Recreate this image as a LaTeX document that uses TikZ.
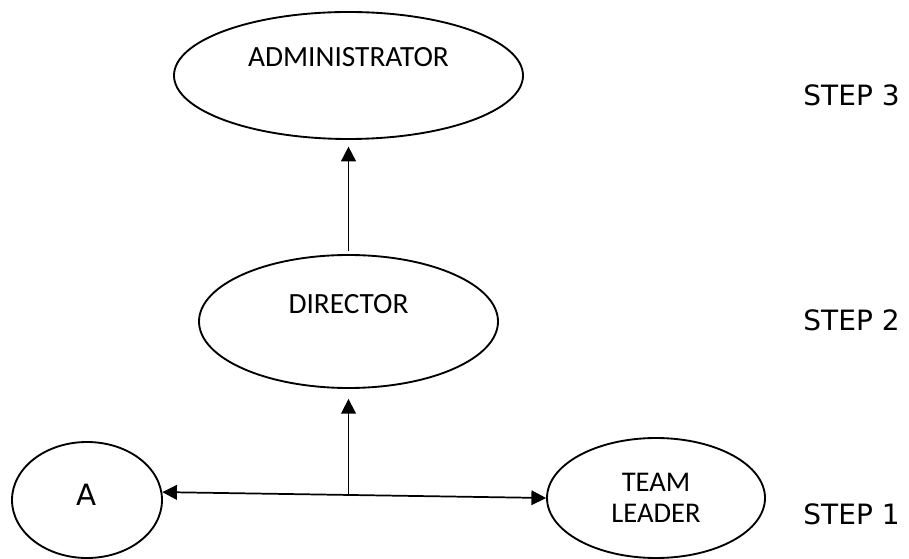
\documentclass[tikz,border=0pt]{standalone}
\usepackage{fontspec}
\setmainfont{Carlito}
\newfontfamily\stepfont{DejaVu Sans}
\usetikzlibrary{arrows.meta}
\usetikzlibrary{shapes}
\tikzset{
        rolenode/.style={align=center,inner sep=0pt},
        % Role ellipses
        node_role/.style={rolenode, ellipse, draw=black, line width=1.4pt, fill=white},
        % Role names (Calibri-like)
        node_name/.style={rolenode, black, font=\fontsize{22}{26}\selectfont},
        % Step labels on the right
        node_step/.style={rolenode, black, font=\stepfont\fontsize{21}{25}\selectfont},
        % Connectors
        link/.style={line width=1.3pt, >={Triangle[length=11pt,width=11pt]}}
}
\begin{document}
\begin{tikzpicture}[x=0.75pt, y=-0.75pt]
            \useasboundingbox (0,0) rectangle (909,559);
            % ellipses
            \node[node_role, minimum width=261.75pt, minimum height=95.25pt] (adm) at (348.5,75.5) {};
            \node[node_role, minimum width=224.25pt, minimum height=99.75pt] (dir) at (348.5,321.5) {};
            \node[node_role, minimum width=112.5pt, minimum height=87pt,
                  font=\stepfont\fontsize{22}{26}\selectfont] (a) at (87,500) {\raisebox{8pt}{A}};
            \node[node_role, minimum width=163.5pt, minimum height=90pt,
                  font=\fontsize{21.4}{29.25}\selectfont] (tl) at (656,498) {\raisebox{-4pt}{\shortstack{TEAM\\[7pt]LEADER}}};
            % names inside the ellipses
            \node[node_name] (adm_name) at ([yshift=13.9pt]adm.center) {ADMINISTRATOR};
            \node[node_name] (dir_name) at ([yshift=13.1pt]dir.center) {DIRECTOR};
            % steps
            \node[node_step] (step3) at (851.5,95) {STEP 3};
            \node[node_step] (step2) at (851.5,320) {STEP 2};
            \node[node_step] (step1) at (851.5,514) {STEP 1};
            % connectors
            \coordinate (junction) at (348.5,494);
            \draw[link, <->] (a.6) -- (tl.west);
            \draw[link, ->, shorten >=7.5pt] (junction) -- (dir.south);
            \draw[link, ->, shorten >=5pt] ([yshift=2pt]dir.north) -- (adm.south);
        \end{tikzpicture}
\end{document}
